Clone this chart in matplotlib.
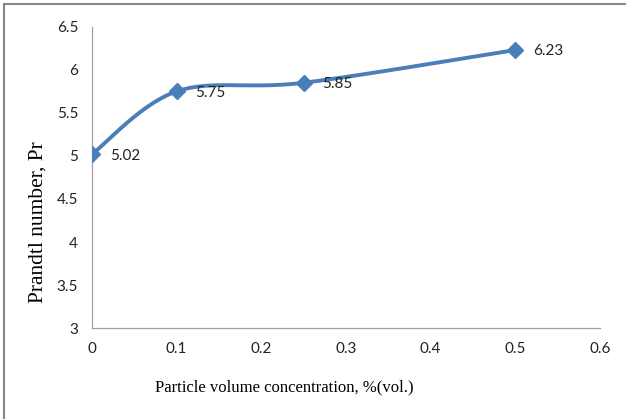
import numpy as np
import matplotlib.pyplot as plt
from matplotlib.lines import Line2D

# Prandtl number vs. particle volume concentration
conc = [0, 0.1, 0.25, 0.5]
prandtl = [5.02, 5.75, 5.85, 6.23]
labels = ["5.02", "5.75", "5.85", "6.23"]

xticks = [0, 0.1, 0.2, 0.3, 0.4, 0.5, 0.6]
yticks = [3, 3.5, 4, 4.5, 5, 5.5, 6, 6.5]

BLUE = "#4a7ebb"


def smooth(xs, ys, sx, sy, n=60):
    # Bezier spline through the points (spreadsheet-style smoothing),
    # control points computed in screen-like units
    p = np.column_stack([np.asarray(xs) * sx, np.asarray(ys) * sy])
    out = []
    for i in range(len(p) - 1):
        p0 = p[i - 1] if i > 0 else p[i]
        p3 = p[i + 2] if i + 2 < len(p) else p[i + 1]
        c1 = p[i] + (p[i + 1] - p0) / 6
        c2 = p[i + 1] - (p3 - p[i]) / 6
        t = np.linspace(0, 1, n)[:, None]
        seg = ((1 - t) ** 3 * p[i] + 3 * (1 - t) ** 2 * t * c1
               + 3 * (1 - t) * t ** 2 * c2 + t ** 3 * p[i + 1])
        out.append(seg)
    out = np.vstack(out)
    return out[:, 0] / sx, out[:, 1] / sy


fig = plt.figure(figsize=(6.26, 4.19), dpi=100)
ax = fig.add_axes([0.147, 0.217, 0.811, 0.719])

# axis extents in pixels -> scale factors for smoothing
sx = 508 / 0.6
sy = 301 / 3.5
cx, cy = smooth(conc, prandtl, sx, sy)
ax.plot(cx, cy, color=BLUE, lw=2.8, solid_capstyle="round", zorder=3)
ax.plot(conc, prandtl, ls="none", marker="D", ms=8.5, color=BLUE, zorder=4)

for x, y, s in zip(conc, prandtl, labels):
    ax.annotate(s, (x, y), xytext=(13, -1), textcoords="offset points",
                fontsize=11, family="Lato", color="#222222", va="center")

ax.set_xlim(0, 0.6)
ax.set_ylim(3, 6.5)
ax.set_xticks(xticks)
ax.set_yticks(yticks)
ax.set_xticklabels([f"{v:g}" for v in xticks])
ax.set_yticklabels([f"{v:g}" for v in yticks])
ax.tick_params(length=0, labelsize=11, pad=10, colors="#222222")
for lab in ax.get_xticklabels() + ax.get_yticklabels():
    lab.set_family("Lato")

for side in ["top", "right"]:
    ax.spines[side].set_visible(False)
for side in ["left", "bottom"]:
    ax.spines[side].set_color("#a0a0a0")
    ax.spines[side].set_linewidth(0.9)

ax.set_xlabel("Particle volume concentration, %(vol.)", family="Liberation Serif",
              fontsize=12)
ax.set_ylabel("Prandtl number, Pr", family="Liberation Serif", fontsize=15.5)
ax.xaxis.set_label_coords(0.378, -0.17)
ax.yaxis.set_label_coords(-0.088, 0.352)

# outer frame
fig.add_artist(Line2D([0.007, 1.0], [0.99, 0.99], color="#888888", lw=1.5,
                      transform=fig.transFigure))
fig.add_artist(Line2D([0.007, 0.007], [0.0, 0.99], color="#888888", lw=1.5,
                      transform=fig.transFigure))

fig.savefig("out.png", dpi=100)
